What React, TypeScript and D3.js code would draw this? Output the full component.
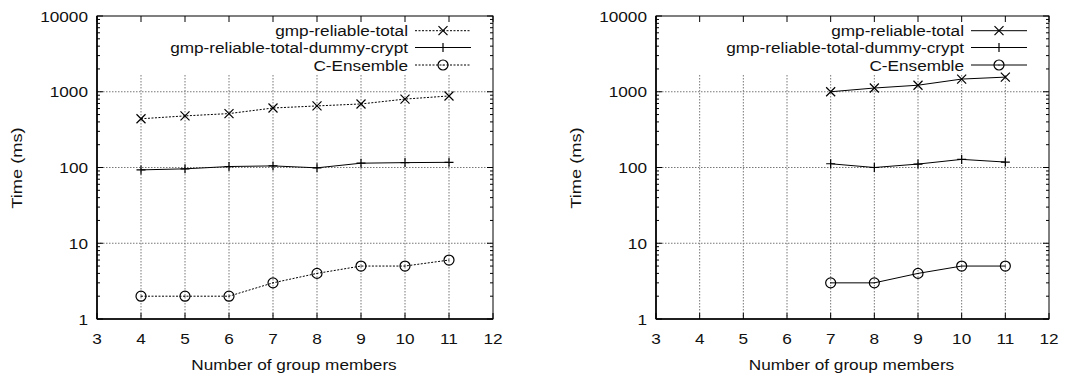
import React from "react";
import * as d3 from "d3";

const xTicks = [3, 4, 5, 6, 7, 8, 9, 10, 11, 12];
const yTicks = [1, 10, 100, 1000, 10000];

const leftMembers = [4, 5, 6, 7, 8, 9, 10, 11];
const leftTotal = [440, 480, 515, 610, 650, 690, 800, 880];
const leftDummy = [93, 96, 103, 105, 99, 114, 116, 117];
const leftEnsemble = [2, 2, 2, 3, 4, 5, 5, 6];

const rightMembers = [7, 8, 9, 10, 11];
const rightTotal = [1000, 1120, 1220, 1470, 1560];
const rightDummy = [112, 100, 111, 128, 118];
const rightEnsemble = [3, 3, 4, 5, 5];

const seriesNames = ["gmp-reliable-total", "gmp-reliable-total-dummy-crypt", "C-Ensemble"];

const FONT = "'Liberation Sans', Arial, Helvetica, sans-serif";
const FS = 15.5;
const SX = 1.11;

type Marker = "x" | "plus" | "circle";

function MarkerShape({ x, y, kind }: { x: number; y: number; kind: Marker }) {
  const s = 4.5;
  if (kind === "x")
    return (
      <path
        d={`M${x - s},${y - s}L${x + s},${y + s}M${x - s},${y + s}L${x + s},${y - s}`}
        stroke="#000"
        strokeWidth={1.2}
        fill="none"
      />
    );
  if (kind === "plus")
    return (
      <path
        d={`M${x - s},${y}L${x + s},${y}M${x},${y - s}L${x},${y + s}`}
        stroke="#000"
        strokeWidth={1.2}
        fill="none"
      />
    );
  return (
    <g>
      <circle cx={x} cy={y} r={5} stroke="#000" strokeWidth={1.2} fill="none" />
      <circle cx={x} cy={y} r={0.6} fill="#000" />
    </g>
  );
}

function T({
  x,
  y,
  anchor,
  rotate,
  children,
}: {
  x: number;
  y: number;
  anchor: "start" | "middle" | "end";
  rotate?: boolean;
  children: React.ReactNode;
}) {
  const tr = rotate
    ? `translate(${x},${y}) rotate(-90) scale(${SX * 1.06},1)`
    : `translate(${x},${y}) scale(${SX},1)`;
  return (
    <text transform={tr} textAnchor={anchor} fontFamily={FONT} fontSize={FS} fill="#111">
      {children}
    </text>
  );
}

function Panel({
  x0,
  x1,
  members,
  series,
  dashed,
}: {
  x0: number;
  x1: number;
  members: number[];
  series: number[][];
  dashed: boolean[];
}) {
  const top = 16;
  const bottom = 319;
  const x = d3.scaleLinear().domain([3, 12]).range([x0, x1]);
  const y = d3.scaleLog().domain([1, 10000]).range([bottom, top]);
  const markers: Marker[] = ["x", "plus", "circle"];
  const line = d3
    .line<[number, number]>()
    .x((d) => x(d[0]))
    .y((d) => y(d[1]));
  const minor: number[] = [];
  for (let dec = 1; dec < 10000; dec *= 10) for (let k = 2; k <= 9; k++) minor.push(dec * k);
  const gridDash = "1.5,1.5";
  const legX = x1 - 85;
  const legRows = [30.7, 47.5, 65];
  return (
    <g>
      {yTicks
        .filter((v) => v > 1 && v < 10000)
        .map((v) => (
          <line key={"gy" + v} x1={x0} x2={x1} y1={y(v)} y2={y(v)} stroke="#777" strokeDasharray={gridDash} />
        ))}
      {xTicks
        .filter((v) => v > 3 && v < 12)
        .map((v) => (
          <line key={"gx" + v} x1={x(v)} x2={x(v)} y1={75} y2={bottom} stroke="#777" strokeDasharray={gridDash} />
        ))}
      <rect x={x0} y={top} width={x1 - x0} height={bottom - top} fill="none" stroke="#000" strokeWidth={1} />
      <line x1={x0} x2={x1} y1={bottom} y2={bottom} stroke="#000" strokeWidth={1.6} />
      <line x1={x0} x2={x0} y1={top} y2={bottom} stroke="#000" strokeWidth={1.6} />
      {yTicks.map((v) => (
        <g key={"ty" + v}>
          <line x1={x0} x2={x0 + 6} y1={y(v)} y2={y(v)} stroke="#000" />
          <line x1={x1} x2={x1 - 6} y1={y(v)} y2={y(v)} stroke="#000" />
          <T x={x0 - 9} y={y(v) + 5.5} anchor="end">
            {String(v)}
          </T>
        </g>
      ))}
      {minor.map((v) => (
        <g key={"my" + v}>
          <line x1={x0} x2={x0 + 3} y1={y(v)} y2={y(v)} stroke="#000" />
          <line x1={x1} x2={x1 - 3} y1={y(v)} y2={y(v)} stroke="#000" />
        </g>
      ))}
      {xTicks.map((v) => (
        <g key={"tx" + v}>
          <line x1={x(v)} x2={x(v)} y1={bottom} y2={bottom - 6} stroke="#000" />
          <line x1={x(v)} x2={x(v)} y1={top} y2={top + 6} stroke="#000" />
          <T x={x(v)} y={344} anchor="middle">
            {String(v)}
          </T>
        </g>
      ))}
      <T x={(x0 + x1) / 2 - 1} y={370} anchor="middle">
        Number of group members
      </T>
      <T x={x0 - 75} y={168} anchor="middle" rotate>
        Time (ms)
      </T>
      {series.map((vals, i) => {
        const pts = members.map((m, j) => [m, vals[j]] as [number, number]);
        return (
          <g key={"s" + i}>
            <path
              d={line(pts) || ""}
              fill="none"
              stroke="#000"
              strokeWidth={1}
              strokeDasharray={dashed[i] ? "2,1.5" : undefined}
            />
            {pts.map((p, j) => (
              <MarkerShape key={j} x={x(p[0])} y={y(p[1])} kind={markers[i]} />
            ))}
          </g>
        );
      })}
      {seriesNames.map((name, i) => (
        <g key={"l" + i}>
          <T x={legX} y={legRows[i] + 5.5} anchor="end">
            {name}
          </T>
          <line
            x1={legX + 7}
            x2={legX + 63}
            y1={legRows[i]}
            y2={legRows[i]}
            stroke="#000"
            strokeWidth={1}
            strokeDasharray={dashed[i] ? "2,1.5" : undefined}
          />
          <MarkerShape x={legX + 35} y={legRows[i]} kind={markers[i]} />
        </g>
      ))}
    </g>
  );
}

export default function App() {
  return (
    <svg width={1082} height={379} style={{ position: "absolute", left: 0, top: 0, background: "#fff" }}>
      <rect width={1082} height={379} fill="#fff" />
      <Panel
        x0={97}
        x1={493}
        members={leftMembers}
        series={[leftTotal, leftDummy, leftEnsemble]}
        dashed={[true, false, true]}
      />
      <Panel
        x0={656}
        x1={1049}
        members={rightMembers}
        series={[rightTotal, rightDummy, rightEnsemble]}
        dashed={[false, false, false]}
      />
    </svg>
  );
}
